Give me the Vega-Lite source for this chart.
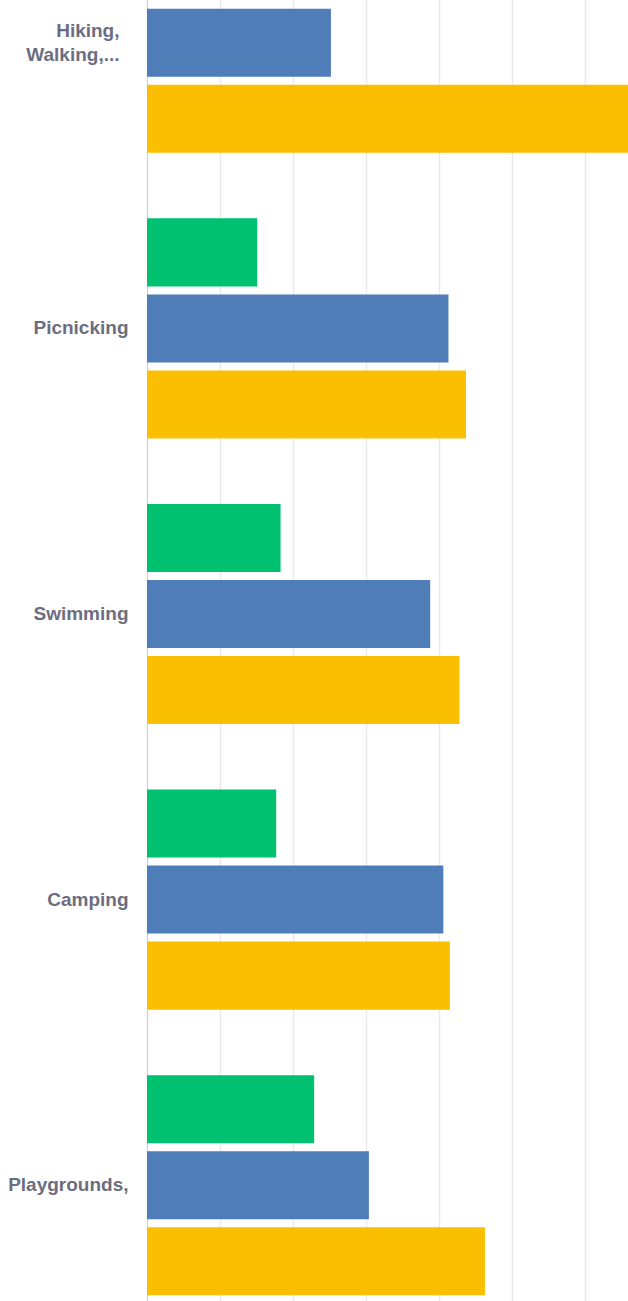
{
  "$schema": "https://vega.github.io/schema/vega-lite/v6.json",
  "autosize": "none",
  "padding": {"left": 147, "top": 0, "right": 0, "bottom": 0},
  "width": 481,
  "height": 1301,
  "background": "white",
  "data": {
    "values": [
      {"activity": "Hiking, Walking,...", "series": "Series 2", "value": 25.2},
      {"activity": "Hiking, Walking,...", "series": "Series 3", "value": 66},
      {"activity": "Picnicking", "series": "Series 1", "value": 15.1},
      {"activity": "Picnicking", "series": "Series 2", "value": 41.3},
      {"activity": "Picnicking", "series": "Series 3", "value": 43.7},
      {"activity": "Swimming", "series": "Series 1", "value": 18.3},
      {"activity": "Swimming", "series": "Series 2", "value": 38.8},
      {"activity": "Swimming", "series": "Series 3", "value": 42.8},
      {"activity": "Camping", "series": "Series 1", "value": 17.7},
      {"activity": "Camping", "series": "Series 2", "value": 40.6},
      {"activity": "Camping", "series": "Series 3", "value": 41.5},
      {"activity": "Playgrounds,", "series": "Series 1", "value": 22.9},
      {"activity": "Playgrounds,", "series": "Series 2", "value": 30.4},
      {"activity": "Playgrounds,", "series": "Series 3", "value": 46.3}
    ]
  },
  "mark": {"type": "bar", "clip": true},
  "encoding": {
    "y": {
      "field": "activity",
      "type": "nominal",
      "sort": ["Hiking, Walking,...", "Picnicking", "Swimming", "Camping", "Playgrounds,"],
      "scale": {"range": [-100, 1328], "paddingInner": 0.2294, "paddingOuter": 0.1147},
      "axis": {
        "title": null,
        "ticks": false,
        "domain": true,
        "domainColor": "#cfcfcf",
        "domainWidth": 1,
        "labelFont": "Liberation Sans",
        "labelFontSize": 19,
        "labelFontWeight": "bold",
        "labelColor": "#6c6d80",
        "labelPadding": {"condition": {"test": "datum.label == 'Hiking, Walking,...'", "value": 28}, "value": 19},
        "labelOffset": {"condition": {"test": "datum.label == 'Hiking, Walking,...'", "value": -12}, "value": 0},
        "labelLimit": 200,
        "labelLineHeight": 24,
        "labelExpr": "datum.label == 'Hiking, Walking,...' ? ['Hiking,', 'Walking,...'] : datum.label"
      }
    },
    "yOffset": {
      "field": "series",
      "type": "nominal",
      "sort": ["Series 1", "Series 2", "Series 3"],
      "scale": {"paddingInner": 0.105, "paddingOuter": 0}
    },
    "x": {
      "field": "value",
      "type": "quantitative",
      "scale": {"domain": [0, 65.9], "nice": false},
      "axis": {
        "values": [0, 10, 20, 30, 40, 50, 60],
        "grid": true,
        "gridColor": "#e9e9e9",
        "gridWidth": 1.5,
        "domain": false,
        "ticks": false,
        "labels": false,
        "title": null
      }
    },
    "color": {
      "field": "series",
      "type": "nominal",
      "scale": {"domain": ["Series 1", "Series 2", "Series 3"], "range": ["#00c16f", "#4f7db7", "#f9bf00"]},
      "legend": null
    }
  },
  "config": {"view": {"stroke": null}}
}
